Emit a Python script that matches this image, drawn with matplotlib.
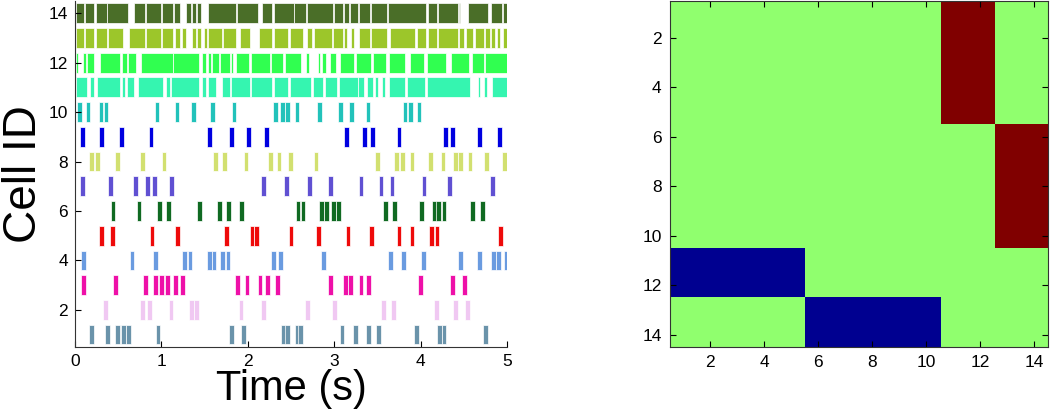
"""
Raster of 14 cells (left) and their cluster-connection matrix (right).

Writes:
    out.png
"""

import matplotlib.pyplot as plt
from matplotlib.colors import ListedColormap
import numpy as np

plt.rcParams["font.family"] = ["Liberation Sans", "DejaVu Sans"]

# ---- raster data -------------------------------------------------------
# sparse cells: spike times in seconds
SPIKES = {
    1: [0.19, 0.38, 0.49, 0.56, 0.62, 0.96, 1.81, 1.95, 2.41, 2.46, 2.57,
        2.61, 3.09, 3.25, 3.40, 3.51, 3.95, 4.22, 4.27, 4.75],
    2: [0.35, 0.78, 0.86, 1.11, 1.35, 1.41, 1.92, 2.18, 2.69, 3.00, 3.57,
        3.69, 4.18, 4.40, 4.54],
    3: [0.10, 0.47, 0.82, 0.93, 1.00, 1.07, 1.16, 1.24, 1.88, 1.99, 2.14,
        2.23, 2.34, 2.96, 3.13, 3.19, 3.31, 3.40, 4.00, 4.37, 4.51],
    4: [0.10, 0.66, 0.93, 1.27, 1.33, 1.56, 1.61, 1.71, 1.77, 2.30, 2.38,
        2.88, 3.65, 3.80, 4.03, 4.46, 4.68, 4.84, 4.90, 4.99],
    5: [0.31, 0.43, 0.89, 1.19, 1.75, 2.05, 2.10, 2.50, 2.82, 3.16, 3.43,
        3.75, 3.90, 4.13, 4.19, 4.92],
    6: [0.44, 0.74, 0.98, 1.08, 1.44, 1.67, 1.78, 1.93, 2.58, 2.64, 2.85,
        2.91, 2.99, 3.05, 3.59, 3.70, 4.01, 4.16, 4.21, 4.27, 4.60, 4.72],
    7: [0.09, 0.41, 0.70, 0.84, 0.92, 1.12, 2.18, 2.45, 2.71, 2.96, 3.31,
        3.54, 3.67, 4.04, 4.33, 4.83],
    8: [0.19, 0.26, 0.49, 0.78, 1.03, 1.63, 1.73, 1.98, 2.26, 2.36, 2.49,
        2.79, 3.50, 3.72, 3.79, 3.90, 4.11, 4.26, 4.40, 4.46, 4.57, 4.76,
        4.97],
    9: [0.09, 0.31, 0.54, 0.88, 1.56, 1.81, 2.01, 2.22, 3.14, 3.35, 3.44,
        3.75, 4.29, 4.37, 4.68, 4.91],
    10: [0.05, 0.15, 0.30, 0.36, 0.95, 1.18, 1.37, 1.59, 1.84, 2.32, 2.40,
         2.46, 2.57, 2.83, 3.07, 3.20, 3.39, 3.82, 3.88, 3.98],
}

# dense cells: firing intervals (start, end) in seconds
BURSTS = {
    11: [(0.01, 0.14), (0.17, 0.22), (0.25, 0.52), (0.54, 0.58), (0.60, 0.68),
         (0.73, 1.02), (1.05, 1.10), (1.11, 1.44), (1.47, 1.52), (1.54, 1.63),
         (1.70, 1.79), (1.80, 2.02), (2.04, 2.28), (2.30, 2.47), (2.49, 2.73),
         (2.75, 2.87), (2.89, 3.03), (3.05, 3.27), (3.28, 3.34), (3.38, 3.45),
         (3.47, 3.51), (3.55, 3.59), (3.63, 3.82), (3.84, 4.05), (4.07, 4.57),
         (4.66, 4.69), (4.73, 4.77), (4.83, 5.00)],
    12: [(0.01, 0.04), (0.09, 0.13), (0.14, 0.22), (0.29, 0.52), (0.54, 0.60),
         (0.61, 0.71), (0.76, 1.13), (1.14, 1.44), (1.47, 1.52), (1.54, 1.57),
         (1.59, 1.67), (1.68, 1.79), (1.81, 1.83), (1.86, 2.01), (2.04, 2.26),
         (2.27, 2.41), (2.43, 2.61), (2.67, 2.71), (2.81, 2.84), (2.86, 2.90),
         (2.95, 3.02), (3.07, 3.23), (3.25, 3.43), (3.45, 3.60), (3.63, 3.82),
         (3.88, 4.04), (4.07, 4.29), (4.35, 4.56), (4.59, 4.73), (4.75, 5.00)],
    13: [(0.01, 0.11), (0.12, 0.22), (0.24, 0.37), (0.38, 0.56), (0.63, 0.81),
         (0.82, 1.00), (1.01, 1.14), (1.16, 1.22), (1.24, 1.29), (1.35, 1.40),
         (1.41, 1.46), (1.49, 1.53), (1.54, 1.70), (1.71, 1.86), (1.91, 2.03),
         (2.13, 2.28), (2.30, 2.47), (2.49, 2.64), (2.69, 2.74), (2.77, 2.97),
         (2.99, 3.10), (3.11, 3.15), (3.19, 3.23), (3.29, 3.41), (3.42, 3.61),
         (3.65, 3.94), (3.96, 4.06), (4.09, 4.19), (4.20, 4.43), (4.44, 4.50),
         (4.52, 4.61), (4.63, 4.73), (4.75, 4.80), (4.81, 4.86), (4.88, 4.92),
         (4.95, 5.00)],
    14: [(0.01, 0.11), (0.12, 0.22), (0.24, 0.37), (0.37, 0.61), (0.68, 0.81),
         (0.82, 1.00), (1.01, 1.14), (1.15, 1.22), (1.29, 1.34), (1.35, 1.40),
         (1.41, 1.46), (1.54, 1.86), (1.88, 2.12), (2.16, 2.28), (2.30, 2.53),
         (2.54, 2.67), (2.69, 2.99), (3.00, 3.10), (3.11, 3.17), (3.18, 3.27),
         (3.29, 3.41), (3.42, 3.61), (3.62, 4.06), (4.08, 4.19), (4.20, 4.43),
         (4.44, 4.46), (4.55, 4.78), (4.81, 4.94), (4.95, 5.00)],
}

CELL_COLORS = {
    1: "#6a93aa", 2: "#f0c8f2", 3: "#ee10a8", 4: "#6a9be0", 5: "#ee0a0a",
    6: "#106a22", 7: "#6050d2", 8: "#d2e070", 9: "#0000e0", 10: "#22c2ba",
    11: "#35f5b0", 12: "#30ff50", 13: "#9cc62a", 14: "#4a6e28",
}

# ---- connection matrix (1 = excitatory, -1 = inhibitory) ---------------
CONN = [
    [0, 0, 0, 0, 0, 0, 0, 0, 0, 0, 1, 1, 0, 0],
    [0, 0, 0, 0, 0, 0, 0, 0, 0, 0, 1, 1, 0, 0],
    [0, 0, 0, 0, 0, 0, 0, 0, 0, 0, 1, 1, 0, 0],
    [0, 0, 0, 0, 0, 0, 0, 0, 0, 0, 1, 1, 0, 0],
    [0, 0, 0, 0, 0, 0, 0, 0, 0, 0, 1, 1, 0, 0],
    [0, 0, 0, 0, 0, 0, 0, 0, 0, 0, 0, 0, 1, 1],
    [0, 0, 0, 0, 0, 0, 0, 0, 0, 0, 0, 0, 1, 1],
    [0, 0, 0, 0, 0, 0, 0, 0, 0, 0, 0, 0, 1, 1],
    [0, 0, 0, 0, 0, 0, 0, 0, 0, 0, 0, 0, 1, 1],
    [0, 0, 0, 0, 0, 0, 0, 0, 0, 0, 0, 0, 1, 1],
    [-1, -1, -1, -1, -1, 0, 0, 0, 0, 0, 0, 0, 0, 0],
    [-1, -1, -1, -1, -1, 0, 0, 0, 0, 0, 0, 0, 0, 0],
    [0, 0, 0, 0, 0, -1, -1, -1, -1, -1, 0, 0, 0, 0],
    [0, 0, 0, 0, 0, -1, -1, -1, -1, -1, 0, 0, 0, 0],
]
CONN_COLORS = ["#000090", "#90ff6e", "#800000"]

SPIKE_W = 0.055
ROW_H = 0.8


def main():
    fig = plt.figure(figsize=(10.5, 4.13), dpi=100)

    # raster
    ax = fig.add_axes([0.0714, 0.16, 0.4115, 0.838])
    for cell, times in SPIKES.items():
        segs = [(t - SPIKE_W / 2, SPIKE_W) for t in times]
        ax.broken_barh(segs, (cell - ROW_H / 2, ROW_H),
                       facecolor=CELL_COLORS[cell], edgecolor="white", linewidth=0.5)
    for cell, spans in BURSTS.items():
        segs = [(a, b - a) for a, b in spans]
        ax.broken_barh(segs, (cell - ROW_H / 2, ROW_H),
                       facecolor=CELL_COLORS[cell], edgecolor="white", linewidth=0.5)

    ax.set_xlim(0, 5)
    ax.set_ylim(0.5, 14.5)
    ax.set_xticks(range(0, 6))
    ax.set_yticks(range(2, 15, 2))
    ax.spines[["top", "right"]].set_visible(False)
    for s in ("left", "bottom"):
        ax.spines[s].set_color("#333333")
    ax.tick_params(direction="in", length=4, labelsize=12.5, pad=5)
    ax.set_xlabel("Time (s)", fontsize=30, labelpad=0)
    ax.set_ylabel("Cell ID", fontsize=33, labelpad=2)

    # matrix
    ax2 = fig.add_axes([0.638, 0.16, 0.36, 0.838])
    ax2.imshow(np.array(CONN), cmap=ListedColormap(CONN_COLORS), vmin=-1.5, vmax=1.5,
               aspect="auto", interpolation="nearest", extent=(0.5, 14.5, 14.5, 0.5))
    ax2.set_xticks(range(2, 15, 2))
    ax2.set_yticks(range(2, 15, 2))
    ax2.tick_params(direction="in", length=4, labelsize=12.5, pad=6,
                    top=True, right=True)
    for s in ax2.spines.values():
        s.set_color("#333333")

    fig.savefig("out.png", dpi=100)
    plt.close(fig)


if __name__ == "__main__":
    main()
